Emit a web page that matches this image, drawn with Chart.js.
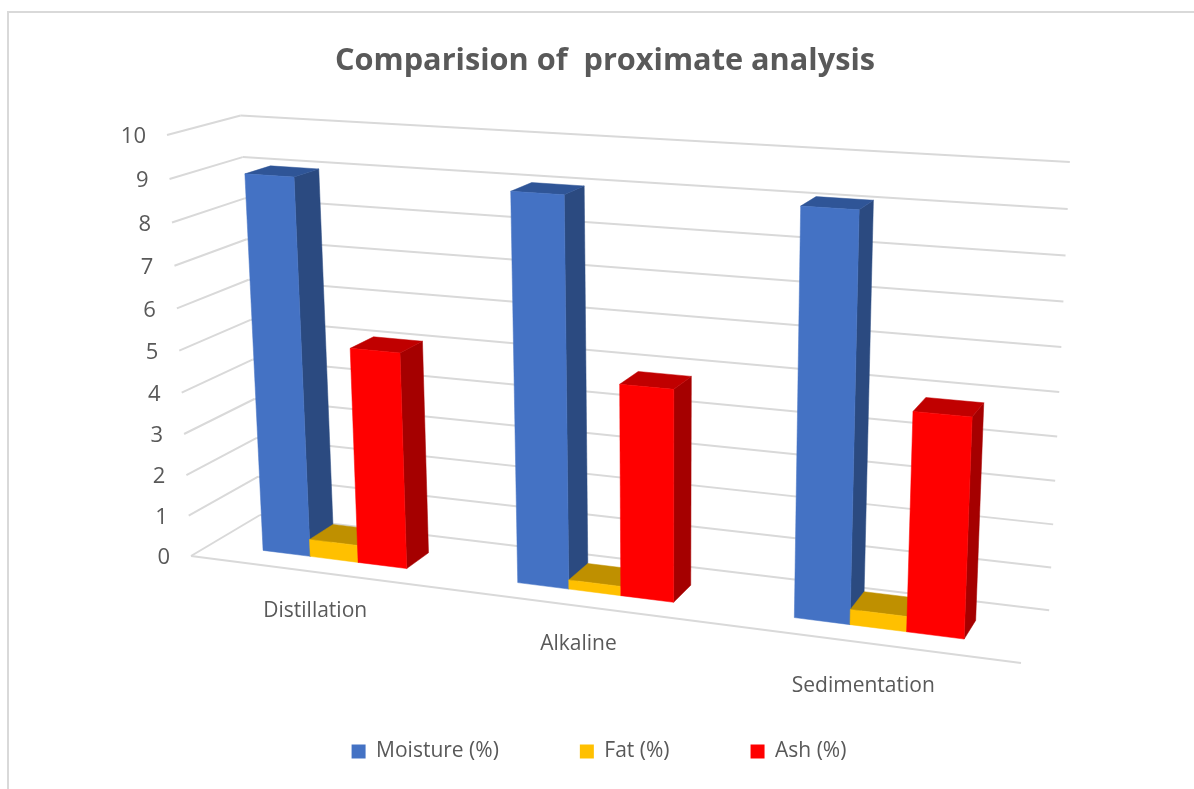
<!DOCTYPE html>
<html>
<head>
<meta charset="utf-8">
<title>Comparision of proximate analysis</title>
<script src="https://cdn.jsdelivr.net/npm/chart.js@4/dist/chart.umd.min.js"></script>
<style>
    html, body { margin: 0; height: 100%; overflow: hidden; background: #fff; }
    #frame { position: absolute; left: 7px; top: 11px; width: 1300px; height: 900px; border: 2px solid #d9d9d9; }
    canvas { position: absolute; left: 0; top: 0; }
</style>
</head>
<body>
<div id="frame"></div>
<canvas id="chart" width="1194" height="789"></canvas>
<script>
const categories = ['Distillation', 'Alkaline', 'Sedimentation'];
const moisture = [9.05, 9.05, 9.14];
const fat = [0.42, 0.22, 0.35];
const ash = [5.17, 4.92, 4.93];

const FONT = '"Open Sans", sans-serif';
const TEXT = '#595959';
const GRID = '#d9d9d9';

// face colours for the extruded bars
const shades = [
    { front: '#4472c4', side: '#2b4a80', top: '#2f5597' },
    { front: '#ffc000', side: '#a67d00', top: '#bf9000' },
    { front: '#ff0000', side: '#a50000', top: '#c00000' }
];

// the box of the 3D plot on screen: origin, the three axis ends and their perspective weights
const origin = [191, 556];
const xEnd = [1021, 663];
const yEnd = [167, 135];
const zEnd = [260, 515];
const wx = 0.88, wy = 0.952, wz = 1.056;
const barDepth = [0.285, 0.645];

// where each category label sits relative to the floor edge
const labelNudge = [[0, 39], [-1, 38], [-4, 43]];

function project(x, y, z) {
    const w = 1 + x * (wx - 1) + y * (wy - 1) + z * (wz - 1);
    return [0, 1].map(i => (origin[i]
        + x * (wx * xEnd[i] - origin[i])
        + y * (wy * yEnd[i] - origin[i])
        + z * (wz * zEnd[i] - origin[i])) / w);
}

function line(ctx, a, b) {
    ctx.beginPath();
    ctx.moveTo(a[0], a[1]);
    ctx.lineTo(b[0], b[1]);
    ctx.stroke();
}

function face(ctx, points, color) {
    ctx.fillStyle = color;
    ctx.strokeStyle = color;
    ctx.lineWidth = 0.5;
    ctx.beginPath();
    points.forEach((p, i) => i ? ctx.lineTo(p[0], p[1]) : ctx.moveTo(p[0], p[1]));
    ctx.closePath();
    ctx.fill();
    ctx.stroke();
}

const box3d = {
    id: 'box3d',
    afterLayout(chart) {
        // title sits a little right of the legend
        chart.titleBlock.left += 6;
        chart.titleBlock.right += 6;
    },
    beforeDatasetsDraw(chart) {
        const { ctx, chartArea: area, scales } = chart;
        const toX = px => (px - area.left) / area.width;
        const toY = px => (area.bottom - px) / area.height;

        ctx.save();

        // walls
        ctx.strokeStyle = GRID;
        ctx.lineWidth = 2;
        ctx.font = '22px ' + FONT;
        ctx.textAlign = 'right';
        ctx.textBaseline = 'middle';
        scales.y.ticks.forEach(tick => {
            const y = toY(scales.y.getPixelForValue(tick.value));
            const front = project(0, y, 0);
            line(ctx, front, project(0, y, 1));
            line(ctx, project(0, y, 1), project(1, y, 1));
            ctx.fillStyle = TEXT;
            ctx.fillText(tick.label, front[0] - 21, front[1] + 2);
        });
        line(ctx, project(0, 0, 0), project(1, 0, 0));

        // category labels hang under the front edge of the floor
        ctx.font = '21px ' + FONT;
        ctx.textAlign = 'center';
        ctx.fillStyle = TEXT;
        categories.forEach((name, i) => {
            const p = project(toX(scales.x.getPixelForValue(i)), 0, 0);
            ctx.fillText(name, p[0] + labelNudge[i][0], p[1] + labelNudge[i][1]);
        });

        // bars, left to right so nearer ones cover the sides of earlier ones
        const [z0, z1] = barDepth;
        categories.forEach((name, i) => {
            chart.data.datasets.forEach((ds, d) => {
                const bar = chart.getDatasetMeta(d).data[i];
                const left = toX(bar.x - bar.width / 2);
                const right = toX(bar.x + bar.width / 2);
                const top = toY(bar.y);
                const c = shades[d];
                face(ctx, [project(right, 0, z0), project(right, 0, z1), project(right, top, z1), project(right, top, z0)], c.side);
                face(ctx, [project(left, top, z0), project(right, top, z0), project(right, top, z1), project(left, top, z1)], c.top);
                face(ctx, [project(left, 0, z0), project(right, 0, z0), project(right, top, z0), project(left, top, z0)], c.front);
            });
        });

        ctx.restore();
        return false;
    }
};

new Chart(document.getElementById('chart'), {
    type: 'bar',
    data: {
        labels: categories,
        datasets: [
            { label: 'Moisture (%)', data: moisture, backgroundColor: shades[0].front },
            { label: 'Fat (%)', data: fat, backgroundColor: shades[1].front },
            { label: 'Ash (%)', data: ash, backgroundColor: shades[2].front }
        ]
    },
    options: {
        responsive: false,
        animation: false,
        layout: { padding: { left: 4, bottom: 17 } },
        categoryPercentage: 0.574,
        barPercentage: 1,
        scales: {
            x: { display: false },
            y: { display: false, min: 0, max: 10, ticks: { stepSize: 1 } }
        },
        plugins: {
            tooltip: { enabled: false },
            title: {
                display: true,
                text: 'Comparision of  proximate analysis',
                color: TEXT,
                font: { family: FONT, size: 30.7, weight: 'bold' },
                padding: { top: 43, bottom: 10 }
            },
            legend: {
                position: 'bottom',
                labels: {
                    color: TEXT,
                    font: { family: FONT, size: 21 },
                    boxWidth: 14,
                    boxHeight: 14,
                    padding: 81
                }
            }
        }
    },
    plugins: [box3d]
});
</script>
</body>
</html>
